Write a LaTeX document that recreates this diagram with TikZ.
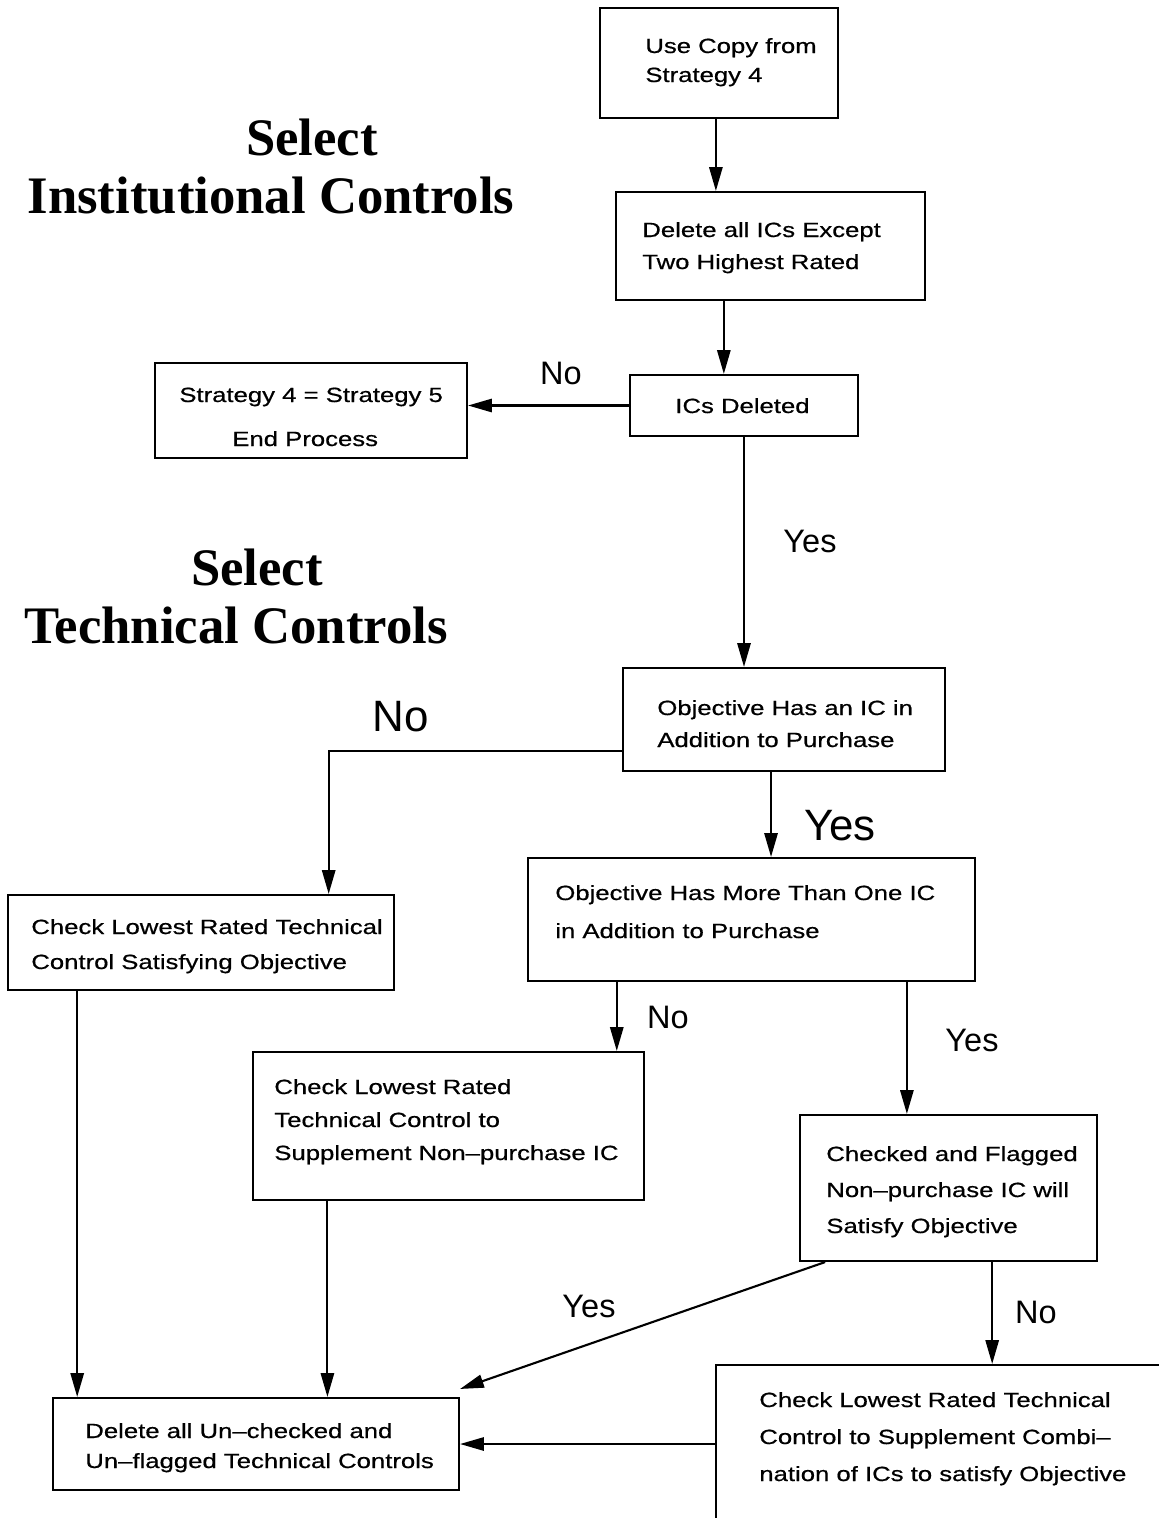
\documentclass[tikz,border=0pt]{standalone}
\usepackage{fontspec}
\setmainfont{Liberation Serif}
\newfontfamily\plotfont[FakeStretch=1.25,FakeBold=0.6]{Liberation Sans}
\newfontfamily\labelfont{Liberation Sans}
\usetikzlibrary{arrows.meta,fit,calc}

\tikzset{
  box/.style={draw, line width=1.2pt, inner sep=0pt},
  txt/.style={font=\plotfont\fontsize{11.7}{14}\selectfont, inner sep=0pt, anchor=base west},
  lbl/.style={font=\labelfont\fontsize{18.5}{22}\selectfont, inner sep=0pt},
  biglbl/.style={font=\labelfont\fontsize{25}{30}\selectfont, inner sep=0pt},
  heading/.style={font=\bfseries\fontsize{30}{36}\selectfont, inner sep=0pt, anchor=base},
  arr/.style={line width=1.2pt, -{Triangle[length=13.5pt,width=7.5pt]}},
}

% one text line per entry, baselines #4 apart, starting at (#2,#3)
\newcommand\boxlines[5]{%
  \foreach \ln [count=\i from 0] in {#5}{%
    \node[txt] (#1-\i) at ({#2},{#3+\i*#4}) {\ln};
  }%
}

\begin{document}
\begin{tikzpicture}[x=0.02cm, y=-0.02cm]
\useasboundingbox[fill=white] (0,0) rectangle (1159,1518);
\clip (0,0) rectangle (1159,1518);

% headings
\node[heading] (h1a) at (312,155) {Select};
\node[heading] (h1b) at (271,213) {Institutional Controls};
\node[heading] (h2a) at (257,585) {Select};
\node[heading] (h2b) at (236,643) {Technical Controls};

% boxes
\node[box, fit={(600,8)(838,118)}] (b1) {};
\node[box, fit={(616,192)(925,300)}] (b2) {};
\node[box, fit={(630,375)(858,436)}] (b3) {};
\node[box, fit={(155,363)(467,458)}] (b4) {};
\node[box, fit={(623,668)(945,771)}] (b5) {};
\node[box, fit={(528,858)(975,981)}] (b6) {};
\node[box, fit={(8,895)(394,990)}] (b7) {};
\node[box, fit={(253,1052)(644,1200)}] (b8) {};
\node[box, fit={(800,1115)(1097,1261)}] (b9) {};
\node[box, fit={(53,1398)(459,1490)}] (b10) {};
\node[box, fit={(716,1365)(1175,1540)}] (b11) {};

% box texts
\boxlines{t1}{645}{53}{29}{Use Copy from, Strategy 4}
\boxlines{t2}{642}{237}{32}{Delete all ICs Except, Two Highest Rated}
\boxlines{t3}{675}{413}{0}{ICs Deleted}
\node[txt] (t4-0) at (179,402) {Strategy 4 = Strategy 5};
\node[txt] (t4-1) at (232,446) {End Process};
\boxlines{t5}{657}{715}{32}{Objective Has an IC in, Addition to Purchase}
\boxlines{t6}{555}{900}{38}{Objective Has More Than One IC, in Addition to Purchase}
\boxlines{t7}{31}{934}{35}{Check Lowest Rated Technical, Control Satisfying Objective}
\boxlines{t8}{274}{1094}{33}{Check Lowest Rated, Technical Control to, Supplement Non–purchase IC}
\boxlines{t9}{826}{1161}{36}{Checked and Flagged, Non–purchase IC will, Satisfy Objective}
\boxlines{t10}{85}{1438}{30}{Delete all Un–checked and, Un–flagged Technical Controls}
\boxlines{t11}{759}{1407}{37}{Check Lowest Rated Technical, Control to Supplement Combi–, nation of ICs to satisfy Objective}

% connectors
\draw[arr] ($(b1.south west)!0.487!(b1.south east)$) coordinate (p1) -- (p1 |- b2.north);
\draw[arr] ($(b2.south west)!0.35!(b2.south east)$) coordinate (p2) -- (p2 |- b3.north);
\draw[arr] (b3.west) -- (b3.west -| b4.east);
\draw[arr] ($(b3.south west)!0.5!(b3.south east)$) coordinate (p3) -- (p3 |- b5.north);
\draw[arr] ($(b5.north west)!0.8!(b5.south west)$) -| ($(b7.north west)!0.829!(b7.north east)$);
\draw[arr] ($(b5.south west)!0.46!(b5.south east)$) coordinate (p5) -- (p5 |- b6.north);
\draw[arr] ($(b6.south west)!0.2!(b6.south east)$) coordinate (p6a) -- (p6a |- b8.north);
\draw[arr] ($(b6.south west)!0.846!(b6.south east)$) coordinate (p6b) -- (p6b |- b9.north);
\draw[arr] ($(b7.south west)!0.181!(b7.south east)$) coordinate (p7) -- (p7 |- b10.north);
\draw[arr] ($(b8.south west)!0.192!(b8.south east)$) coordinate (p8) -- (p8 |- b10.north);
\coordinate (q10) at ($(b10.north east)+(0,-8)$);
\draw[arr] ($(b9.south west)!0.0875!(b9.south east)$) -- (q10);
\draw[arr] ($(b9.south west)!0.646!(b9.south east)$) coordinate (p9) -- (p9 |- b11.north);
\draw[arr] (b11.west |- b10.east) -- (b10.east);

% branch labels
\node[lbl] (l1) at (561,373) {No};
\node[lbl] (l2) at (810,541) {Yes};
\node[biglbl] (l3) at (401,717) {No};
\node[biglbl] (l4) at (840,826) {Yes};
\node[lbl] (l5) at (668,1017) {No};
\node[lbl] (l6) at (972,1040) {Yes};
\node[lbl] (l7) at (589,1306) {Yes};
\node[lbl] (l8) at (1036,1312) {No};
\end{tikzpicture}
\end{document}
